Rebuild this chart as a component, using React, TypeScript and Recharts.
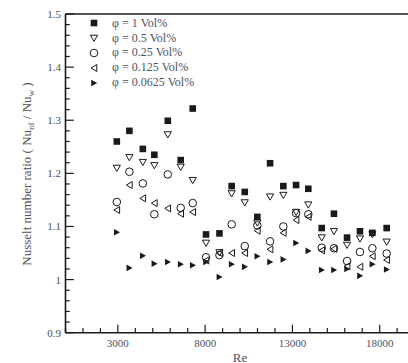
import {
  ScatterChart,
  Scatter,
  XAxis,
  YAxis,
  ReferenceLine,
  Legend,
} from "recharts";

// Reynolds numbers of the measurements
const reValues = [
  2940, 3660, 4430, 5090, 5860, 6600, 7290, 8050, 8820, 9520, 10270, 10990,
  11720, 12480, 13210, 13910, 14680, 15380, 16130, 16870, 17580, 18400,
];

// Nu_nf / Nu_w for each concentration
const phi1 = [
  1.26, 1.28, 1.246, 1.235, 1.299, 1.225, 1.322, 1.085, 1.087, 1.176, 1.165,
  1.118, 1.219, 1.176, 1.178, 1.171, 1.097, 1.124, 1.079, 1.091, 1.088, 1.097,
];
const phi05 = [
  1.21, 1.23, 1.221, 1.215, 1.273, 1.212, 1.187, 1.069, 1.051, 1.162, 1.145,
  1.107, 1.156, 1.159, 1.127, 1.141, 1.079, 1.091, 1.065, 1.077, 1.085, 1.071,
];
const phi025 = [
  1.146, 1.203, 1.181, 1.123, 1.198, 1.135, 1.144, 1.042, 1.046, 1.104, 1.063,
  1.102, 1.072, 1.1, 1.125, 1.123, 1.06, 1.059, 1.035, 1.052, 1.059, 1.049,
];
const phi0125 = [
  1.131, 1.178, 1.153, 1.144, 1.134, 1.124, 1.127, 1.036, 1.05, 1.05, 1.05,
  1.092, 1.057, 1.088, 1.112, 1.118, 1.055, 1.058, 1.025, 1.024, 1.044, 1.037,
];
const phi00625 = [
  1.089, 1.022, 1.045, 1.03, 1.033, 1.029, 1.027, 1.033, 1.005, 1.029, 1.024,
  1.044, 1.033, 1.038, 1.069, 1.054, 1.018, 1.018, 1.02, 1.007, 1.029, 1.019,
];

const seriesNames = [
  "φ = 1 Vol%",
  "φ = 0.5 Vol%",
  "φ = 0.25 Vol%",
  "φ = 0.125 Vol%",
  "φ = 0.0625 Vol%",
];

const xTicks = [
  0, 1000, 2000, 3000, 4000, 5000, 6000, 7000, 8000, 9000, 10000, 11000,
  12000, 13000, 14000, 15000, 16000, 17000, 18000, 19000, 20000,
];
const xMajor = [3000, 8000, 13000, 18000];
const yTicks = [
  0.9, 0.92, 0.94, 0.96, 0.98, 1, 1.02, 1.04, 1.06, 1.08, 1.1, 1.12, 1.14,
  1.16, 1.18, 1.2, 1.22, 1.24, 1.26, 1.28, 1.3, 1.32, 1.34, 1.36, 1.38, 1.4,
  1.42, 1.44, 1.46, 1.48, 1.5,
];
const yMajor = [0.9, 1, 1.1, 1.2, 1.3, 1.4, 1.5];

const FONT = "'Liberation Serif', 'Times New Roman', serif";
const INK = "#1a1a1a";
const LABEL = "#4d5263";

function toRows(values: number[]) {
  return reValues.map((re, i) => ({ re, v: values[i] }));
}

function Square({ cx, cy }: any) {
  return <rect x={cx - 3.3} y={cy - 3.3} width={6.6} height={6.6} fill={INK} />;
}
function DownTri({ cx, cy }: any) {
  return (
    <polygon
      points={`${cx - 3.6},${cy - 2.8} ${cx + 3.6},${cy - 2.8} ${cx},${cy + 3.4}`}
      fill="none"
      stroke={INK}
      strokeWidth={1}
    />
  );
}
function Ring({ cx, cy }: any) {
  return <circle cx={cx} cy={cy} r={3.8} fill="none" stroke={INK} strokeWidth={1} />;
}
function LeftTri({ cx, cy }: any) {
  return (
    <polygon
      points={`${cx - 3},${cy} ${cx + 2.8},${cy - 3.5} ${cx + 2.8},${cy + 3.5}`}
      fill="none"
      stroke={INK}
      strokeWidth={1}
    />
  );
}
function RightTri({ cx, cy }: any) {
  return (
    <polygon
      points={`${cx + 3.2},${cy} ${cx - 2.8},${cy - 3.3} ${cx - 2.8},${cy + 3.3}`}
      fill={INK}
    />
  );
}

const shapes = [Square, DownTri, Ring, LeftTri, RightTri];

function XTick({ x, y, payload }: any) {
  const major = xMajor.includes(payload.value);
  return (
    <g>
      <line x1={x} x2={x} y1={y} y2={y - (major ? 8 : 4.6)} stroke={INK} strokeWidth={1.2} />
      {major && (
        <text x={x} y={y + 10} textAnchor="middle" dominantBaseline="central"
          fontFamily={FONT} fontSize={11} fill={LABEL}>
          {payload.value}
        </text>
      )}
    </g>
  );
}

function YTick({ x, y, payload }: any) {
  const major = yMajor.some((m) => Math.abs(m - payload.value) < 1e-6);
  return (
    <g>
      <line x1={x} x2={x + (major ? 8.3 : 4.3)} y1={y} y2={y} stroke={INK} strokeWidth={1.2} />
      {major && (
        <text x={x - 4.5} y={y} textAnchor="end" dominantBaseline="central"
          fontFamily={FONT} fontSize={11} fill={LABEL}>
          {Number(payload.value.toFixed(1))}
        </text>
      )}
    </g>
  );
}

function YTitle() {
  return (
    <text
      transform="translate(31,174) rotate(-90)"
      textAnchor="middle"
      fontFamily={FONT}
      fontSize={13}
      fill={LABEL}
    >
      Nusselt number ratio ( Nu
      <tspan dy={3} fontSize={9}>nf</tspan>
      <tspan dy={-3}> / Nu</tspan>
      <tspan dy={3} fontSize={9}>w</tspan>
      <tspan dy={-3}> )</tspan>
    </text>
  );
}

function XTitle() {
  return (
    <text x={240} y={357} textAnchor="middle" dominantBaseline="central"
      fontFamily={FONT} fontSize={13} fill={LABEL}>
      Re
    </text>
  );
}

function LegendBox() {
  return (
    <div style={{ fontFamily: FONT, fontSize: 12, color: LABEL }}>
      {seriesNames.map((name, i) => {
        const Shape = shapes[i];
        return (
          <div key={name} style={{ display: "flex", alignItems: "center", height: 14.85 }}>
            <svg width={12} height={12} style={{ display: "block" }}>
              <Shape cx={6} cy={6} />
            </svg>
            <span style={{ marginLeft: 11.7, whiteSpace: "nowrap" }}>{name}</span>
          </div>
        );
      })}
    </div>
  );
}

const allSeries = [phi1, phi05, phi025, phi0125, phi00625];

export default function App() {
  return (
    <div
      style={{
        position: "absolute",
        left: 0,
        top: 0,
        width: 408,
        height: 363,
        overflow: "hidden",
        background: "#fff",
      }}
    >
      <ScatterChart
        width={430}
        height={363}
        margin={{ top: 14, right: 15.4, bottom: 0, left: 0 }}
      >
        <XAxis
          type="number"
          dataKey="re"
          domain={[0, 20000]}
          ticks={xTicks}
          interval={0}
          tickSize={0}
          tickMargin={0}
          tick={<XTick />}
          height={30.3}
          axisLine={{ stroke: INK, strokeWidth: 1.6 }}
          label={<XTitle />}
        />
        <YAxis
          type="number"
          dataKey="v"
          domain={[0.9, 1.5]}
          ticks={yTicks}
          interval={0}
          tickSize={0}
          tickMargin={0}
          tick={<YTick />}
          width={65.5}
          axisLine={{ stroke: INK, strokeWidth: 1.6 }}
          label={<YTitle />}
        />
        <ReferenceLine y={1.5} stroke={INK} strokeWidth={1.6} />
        <ReferenceLine x={20000} stroke={INK} strokeWidth={1.6} />
        <Legend
          content={<LegendBox />}
          layout="vertical"
          align="center"
          verticalAlign="middle"
          wrapperStyle={{ top: 15.8, left: 88.3, width: 160 }}
        />
        {allSeries
          .map((vals, i) => (
            <Scatter
              key={seriesNames[i]}
              name={seriesNames[i]}
              data={toRows(vals)}
              shape={shapes[i]}
              isAnimationActive={false}
            />
          ))
          .reverse()}
      </ScatterChart>
    </div>
  );
}
